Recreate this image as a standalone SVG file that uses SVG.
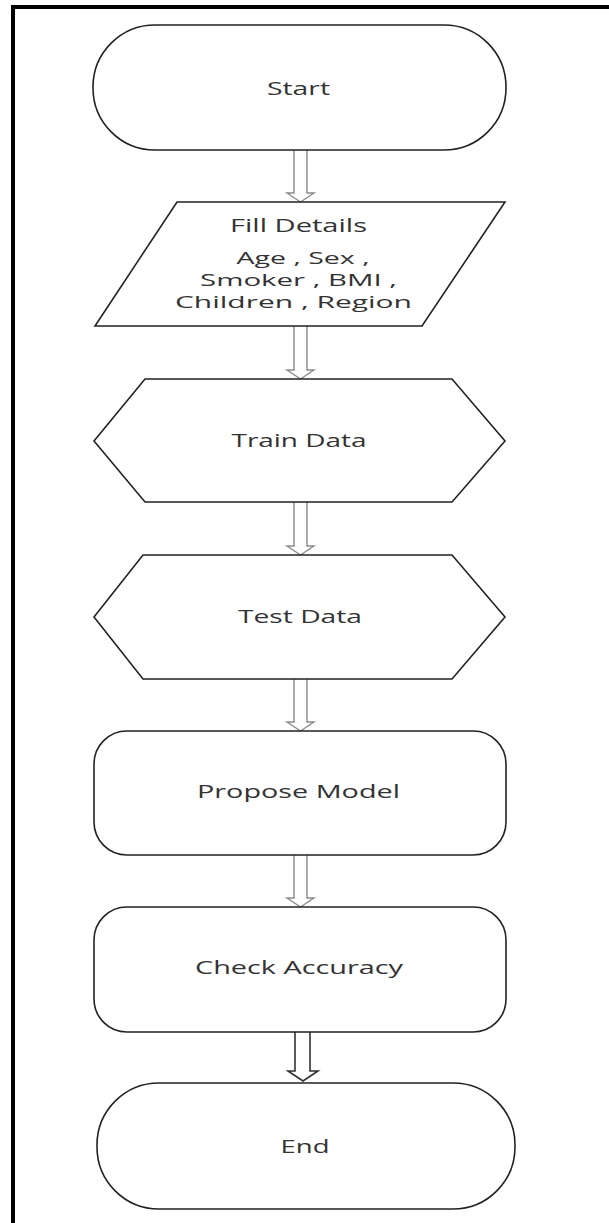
<svg xmlns="http://www.w3.org/2000/svg" width="609" height="1223" viewBox="0 0 609 1223">
<style>
.shape{fill:#fff;stroke:#222;stroke-width:1.6}
.arr{fill:#fff;stroke:#8a8a8a;stroke-width:1.4}
.arr2{fill:#fff;stroke:#333;stroke-width:1.6}
.t{font-family:"Open Sans","Liberation Sans",sans-serif;font-size:18px;fill:#333;text-anchor:middle}
.s{font-size:16px}
</style>
<rect width="609" height="1223" fill="#fff"/>
<g id="frame">
<rect x="11" y="5" width="598" height="4" fill="#000"/>
<rect x="11" y="5" width="4" height="1218" fill="#000"/>
</g>
<g id="connectors">
<path class="arr" d="M294,150 V193 H287 L300.5,202 L314,193 H307 V150"/>
<path class="arr" d="M294,326 V370 H287 L300.5,379 L314,370 H307 V326"/>
<path class="arr" d="M294,502 V546 H287 L300.5,555 L314,546 H307 V502"/>
<path class="arr" d="M294,679 V722 H287 L300.5,731 L314,722 H307 V679"/>
<path class="arr" d="M294,855 V898 H287 L300.5,907 L314,898 H307 V855"/>
<path class="arr2" d="M295,1032 V1071 H288 L303,1081 L318,1071 H310 V1032"/>
</g>
<g id="start">
<rect class="shape" x="93" y="25" width="413" height="125" rx="62" ry="62"/>
<text class="t" x="298.5" y="95" textLength="63" lengthAdjust="spacingAndGlyphs">Start</text>
</g>
<g id="fill-details">
<polygon class="shape" points="177,202 505,202 422,326 95,326"/>
<text class="t" x="298.5" y="231.5" textLength="137" lengthAdjust="spacingAndGlyphs">Fill Details</text>
<text class="t s" x="303" y="264" textLength="133" lengthAdjust="spacingAndGlyphs">Age , Sex ,</text>
<text class="t s" x="298.5" y="286" textLength="197" lengthAdjust="spacingAndGlyphs">Smoker , BMI ,</text>
<text class="t s" x="293.5" y="308" textLength="237" lengthAdjust="spacingAndGlyphs">Children , Region</text>
</g>
<g id="train-data">
<polygon class="shape" points="94,441 145,379 452,379 505,441 452,502 145,502"/>
<text class="t" x="299" y="447" textLength="135" lengthAdjust="spacingAndGlyphs">Train Data</text>
</g>
<g id="test-data">
<polygon class="shape" points="94,617 143,555 452,555 505,617 452,679 143,679"/>
<text class="t" x="300" y="623" textLength="124" lengthAdjust="spacingAndGlyphs">Test Data</text>
</g>
<g id="propose-model">
<rect class="shape" x="94" y="731" width="412" height="124" rx="33" ry="33"/>
<text class="t" x="298.5" y="798" textLength="203" lengthAdjust="spacingAndGlyphs">Propose Model</text>
</g>
<g id="check-accuracy">
<rect class="shape" x="94" y="907" width="412" height="125" rx="33" ry="33"/>
<text class="t" x="299" y="974" textLength="208" lengthAdjust="spacingAndGlyphs">Check Accuracy</text>
</g>
<g id="end">
<rect class="shape" x="97" y="1083" width="418" height="126" rx="62" ry="62"/>
<text class="t" x="305" y="1153" textLength="49" lengthAdjust="spacingAndGlyphs">End</text>
</g>
</svg>
